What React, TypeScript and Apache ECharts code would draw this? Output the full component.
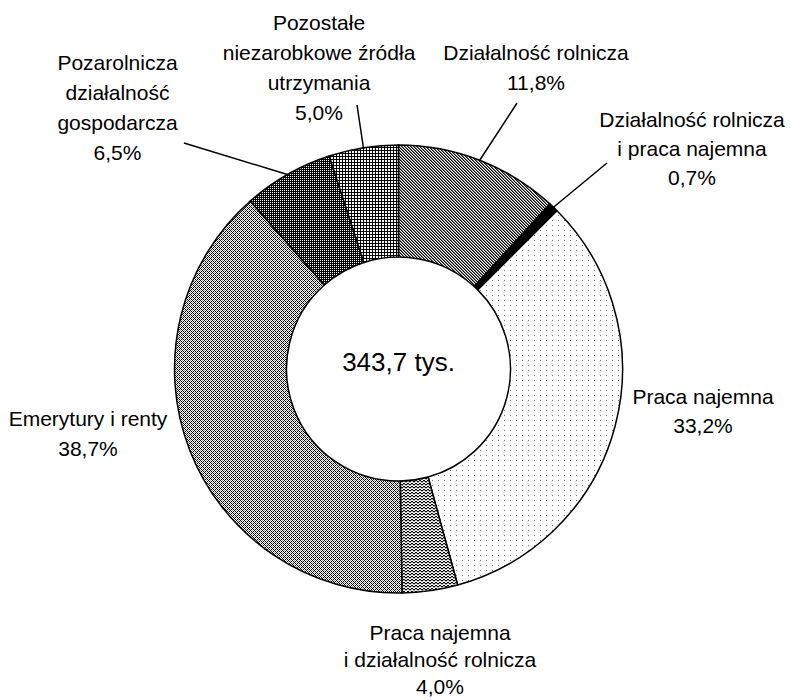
import React, { useEffect, useRef } from 'react';
import * as echarts from 'echarts';

// ---- data ----
const CATEGORIES = [
  'Działalność rolnicza',
  'Działalność rolnicza\ni praca najemna',
  'Praca najemna',
  'Praca najemna\ni działalność rolnicza',
  'Emerytury i renty',
  'Pozarolnicza\ndziałalność\ngospodarcza',
  'Pozostałe\nniezarobkowe źródła\nutrzymania',
];
const SHARES = [11.8, 0.7, 33.2, 4.0, 38.7, 6.5, 5.0];
const TOTAL_LABEL = '343,7 tys.';

// ---- layout (label block centres, line heights and leader-line end offsets) ----
const LABEL_POS: number[][] = [
  [536, 67],
  [692, 148],
  [703, 411],
  [440, 659],
  [88, 433],
  [117.5, 107],
  [319, 67.5],
];
const LABEL_LINE_HEIGHT = [30, 29, 29, 27, 30, 30, 30];
const LINE_END: (number[] | null)[] = [
  [-19, 36],
  [-85, 15],
  null,
  null,
  null,
  [66.5, 36],
  [38, 37.5],
];

const FONT = '"Liberation Sans", Arial, sans-serif';

function makePattern(w: number, h: number, fill: (x: number, y: number) => string | null) {
  const c = document.createElement('canvas');
  c.width = w;
  c.height = h;
  const ctx = c.getContext('2d')!;
  ctx.fillStyle = '#fff';
  ctx.fillRect(0, 0, w, h);
  for (let y = 0; y < h; y++) {
    for (let x = 0; x < w; x++) {
      const col = fill(x, y);
      if (col) {
        ctx.fillStyle = col;
        ctx.fillRect(x, y, 1, 1);
      }
    }
  }
  return { image: c.toDataURL(), repeat: 'repeat', imageWidth: w, imageHeight: h };
}

const mod = (a: number, n: number) => ((a % n) + n) % n;

function buildPatterns(): any[] {
  const zig = [0, 1, 1, 0];
  return [
    // fine diagonal hatch
    makePattern(3, 3, (x, y) => (mod(x - y, 3) === 0 ? '#000' : mod(x - y, 3) === 1 ? '#777' : null)),
    '#000',
    // sparse dots
    makePattern(6, 5, (x, y) => (x === 0 && y === 0 ? '#777' : null)),
    // wave
    makePattern(4, 3, (x, y) => (y === zig[x] ? '#000' : y === zig[x] + 1 ? '#aaa' : null)),
    // diamond lattice
    makePattern(4, 4, (x, y) =>
      mod(x + y, 4) === 0 || mod(x - y, 4) === 0 ? '#000' : (x === 2 && y === 0) || (x === 0 && y === 2) ? '#999' : null
    ),
    // dark dotted
    makePattern(4, 4, (x, y) => (x % 2 === 0 && y % 2 === 0 ? null : '#000')),
    // grid
    makePattern(3, 3, (x, y) => (x === 0 || y === 0 ? '#000' : null)),
  ];
}

const fmt = (v: number) => v.toFixed(1).replace('.', ',');

export default function App() {
  const ref = useRef<HTMLDivElement>(null);
  useEffect(() => {
    document.body.style.margin = '0';
    const chart = echarts.init(ref.current!, undefined, { renderer: 'svg' });
    const patterns = buildPatterns();
    chart.setOption({
      animation: false,
      backgroundColor: '#fff',
      graphic: [
        {
          type: 'text',
          x: 398.5,
          y: 361.5,
          style: {
            text: TOTAL_LABEL,
            font: '26px ' + FONT,
            fill: '#000',
            textAlign: 'center',
            textVerticalAlign: 'middle',
          },
        },
      ],
      series: [
        {
          type: 'pie',
          center: [398.5, 369],
          radius: [112, 224],
          startAngle: 90,
          clockwise: true,
          avoidLabelOverlap: false,
          silent: true,
          emphasis: { disabled: true },
          itemStyle: { borderColor: '#000', borderWidth: 1.5 },
          label: {
            show: true,
            position: 'outside',
            formatter: (p: any) => p.name + '\n' + fmt(p.value) + '%',
            fontFamily: FONT,
            fontSize: 21,
            lineHeight: 30,
            color: '#000',
            align: 'center',
          },
          labelLine: { show: true, length: 10, length2: 10, lineStyle: { color: '#000', width: 1.5 } },
          labelLayout: (params: any) => {
            const i = params.dataIndex;
            const [x, y] = LABEL_POS[i];
            const res: any = { x, y, align: 'center', verticalAlign: 'middle' };
            const end = LINE_END[i];
            if (end && params.labelLinePoints) {
              res.labelLinePoints = [params.labelLinePoints[0], [x + end[0], y + end[1]]];
            }
            return res;
          },
          data: CATEGORIES.map((name, i) => ({
            name,
            value: SHARES[i],
            itemStyle: { color: patterns[i] },
            label: { lineHeight: LABEL_LINE_HEIGHT[i] },
            labelLine: { show: LINE_END[i] != null },
          })),
        },
      ],
    });
    return () => chart.dispose();
  }, []);
  return <div ref={ref} style={{ width: 790, height: 700 }} />;
}
